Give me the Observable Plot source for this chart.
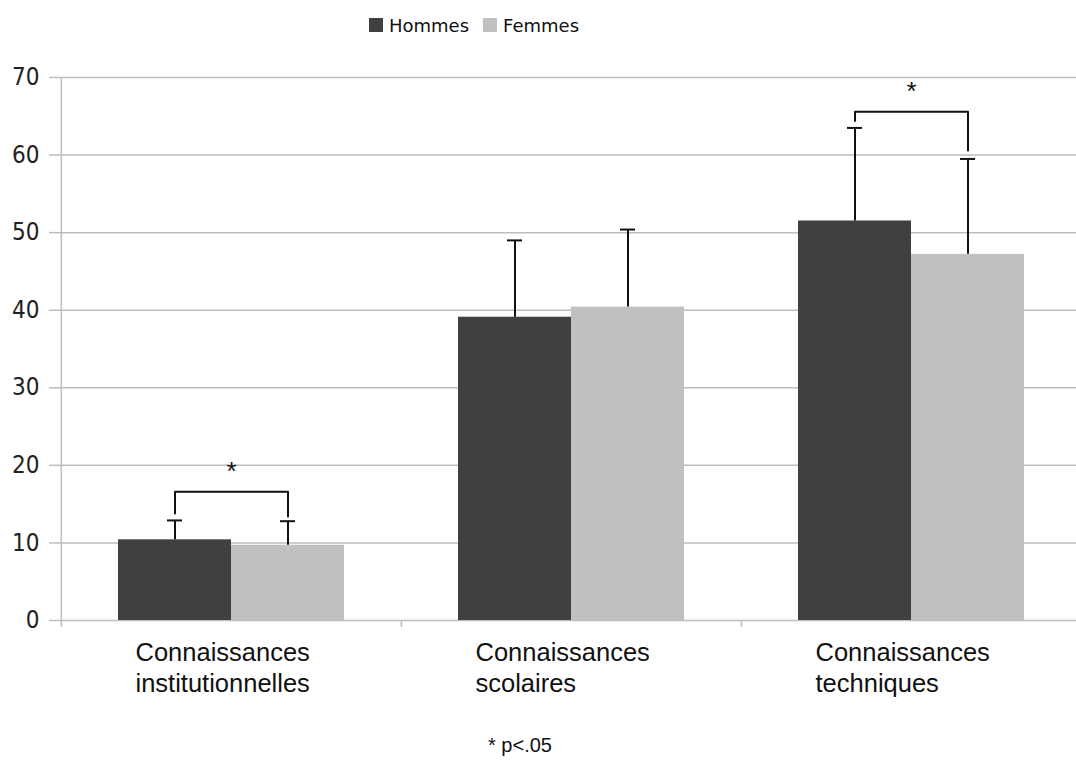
<!DOCTYPE html>
<html><head><meta charset="utf-8">
<script src="https://cdn.jsdelivr.net/npm/d3@7"></script>
<script src="https://cdn.jsdelivr.net/npm/@observablehq/plot@0.6"></script>
<style>
body{margin:0;background:#fff;width:1076px;height:760px;overflow:hidden;font-family:"Liberation Sans",Arial,sans-serif}
#legend{height:50px;display:flex;align-items:center;padding-left:369px;font-family:"DejaVu Sans",sans-serif;font-size:18px;color:#111;box-sizing:border-box}
.item{display:flex;align-items:center;margin-right:14px}
.sw{width:14px;height:14px;display:inline-block;margin-right:6px}
#caption{height:50px;width:1040px;text-align:center;font-size:20px;color:#111;line-height:70px}
</style></head><body>
<div id="legend"></div>
<div id="chart"></div>
<div id="caption"></div>
<script>
const categories = ["Connaissances institutionnelles", "Connaissances scolaires", "Connaissances techniques"];
const series = ["Hommes", "Femmes"];
const seriesColors = ["#404040", "#c0c0c0"];
const hommes = [10.4, 39.1, 51.5];
const femmes = [9.7, 40.4, 47.2];
const hommesErr = [2.5, 9.9, 12.0];
const femmesErr = [3.1, 10.0, 12.3];
const yTicks = [0, 10, 20, 30, 40, 50, 60, 70];
const sigCategories = ["Connaissances institutionnelles", "Connaissances techniques"];
const sigBracket = [16.6, 65.6];
const sigLegHommes = [13.8, 64.4];
const sigLegFemmes = [13.4, 60.6];
const sigStar = [19.2, 68.2];
const sigMark = "*";
const captionText = "* p<.05";

// legend
const legend = document.getElementById("legend");
series.forEach((s, i) => {
  const it = document.createElement("div"); it.className = "item";
  const sw = document.createElement("span"); sw.className = "sw"; sw.style.background = seriesColors[i];
  it.appendChild(sw); it.appendChild(document.createTextNode(s)); legend.appendChild(it);
});
document.getElementById("caption").textContent = captionText;

const rows = [];
categories.forEach((c, i) => {
  rows.push({category: c, sexe: "Hommes", value: hommes[i], err: hommesErr[i]});
  rows.push({category: c, sexe: "Femmes", value: femmes[i], err: femmesErr[i]});
});
const bracketPts = [];
sigCategories.forEach((c, j) => {
  bracketPts.push({category: c, key: j, sexe: "Hommes", y: sigLegHommes[j]});
  bracketPts.push({category: c, key: j, sexe: "Hommes", y: sigBracket[j]});
  bracketPts.push({category: c, key: j, sexe: "Femmes", y: sigBracket[j]});
  bracketPts.push({category: c, key: j, sexe: "Femmes", y: sigLegFemmes[j]});
});
const stars = sigCategories.map((c, j) => ({category: c, y: sigStar[j]}));

const W = 1076, ML = 60, MR = -5;
const halfBand = (W - ML - MR) / categories.length / 2;
const gray = "#bdbdbd";
const tickFont = "'Liberation Sans Narrow', 'DejaVu Sans Condensed', 'Liberation Sans', sans-serif";

const chart = Plot.plot({
  width: W, height: 660,
  marginTop: 27, marginBottom: 90, marginLeft: ML, marginRight: MR,
  style: {fontFamily: "DejaVu Sans, sans-serif", fontSize: "17px", color: "#222", background: "#fff"},
  fx: {domain: categories, padding: 0, axis: null},
  x: {domain: series, paddingInner: 0, paddingOuter: 0.493, axis: null},
  y: {domain: [0, 70], axis: null},
  color: {domain: series, range: seriesColors},
  marks: [
    Plot.gridY(yTicks, {stroke: gray, strokeOpacity: 1, strokeWidth: 1.5}),
    Plot.axisY(yTicks, {tickSize: 12, tickPadding: 10, stroke: gray, strokeWidth: 1.5, fill: "#222", fontSize: 24, fontFamily: tickFont, label: null}),
    Plot.ruleX([categories[0]], {fx: d => d, x: null, y1: -0.9, y2: 70, dx: -halfBand, stroke: gray, strokeWidth: 1.5}),
    Plot.ruleX(categories.slice(1), {fx: d => d, x: null, y1: -0.9, y2: 0, dx: -halfBand, stroke: gray, strokeWidth: 1.5}),
    Plot.barY(rows, {fx: "category", x: "sexe", y: "value", fill: "sexe"}),
    Plot.ruleX(rows, {fx: "category", x: "sexe", y1: "value", y2: d => d.value + d.err, stroke: "#111", strokeWidth: 2}),
    Plot.tickY(rows, {fx: "category", x: "sexe", y: d => d.value + d.err, insetLeft: 49, insetRight: 49, stroke: "#111", strokeWidth: 2}),
    Plot.line(bracketPts, {fx: "category", x: "sexe", y: "y", z: "key", stroke: "#111", strokeWidth: 2, curve: "linear"}),
    Plot.text(stars, {fx: "category", y: "y", text: () => sigMark, fontSize: 26, fontFamily: "Liberation Sans, Arial, sans-serif", fill: "#111"}),
    Plot.text(categories, {fx: d => d, y: () => 0, text: d => d.replace(" ", "\n"), textAnchor: "start", lineAnchor: "top", dx: -96, dy: 19, fontSize: 25.5, lineHeight: 1.2, fontFamily: "Liberation Sans, Arial, sans-serif", fill: "#111"})
  ]
});
document.getElementById("chart").appendChild(chart);
</script>
</body></html>
